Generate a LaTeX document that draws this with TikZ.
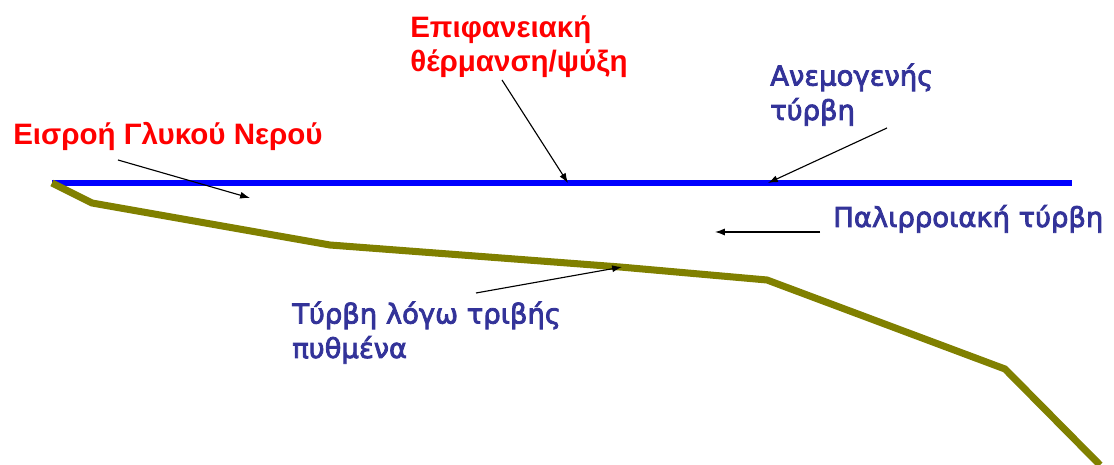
\documentclass[tikz,border=0pt]{standalone}
\usepackage{fontspec}
\usetikzlibrary{arrows.meta}
\newfontfamily\redfont{Liberation Sans}
\newfontfamily\bluefont[FakeBold=3]{DejaVu Sans}
\definecolor{surfline}{RGB}{0,0,255}
\definecolor{bedline}{RGB}{128,128,0}
\definecolor{labred}{RGB}{255,0,0}
\definecolor{labblue}{RGB}{51,51,153}
\tikzset{
  surf/.style  ={draw=surfline, line width=4.3pt},
  bed/.style   ={draw=bedline, line width=5pt, line join=miter},
  redlab/.style ={text=labred, font=\redfont\bfseries\fontsize{21}{24.2}\selectfont, inner sep=0pt, anchor=base west, align=left},
  bluelab/.style={text=labblue, font=\bluefont\fontsize{19.5}{24.5}\selectfont, inner sep=0pt, anchor=base west, align=left},
  ptr/.style   ={draw=black, line width=0.8pt, -{Latex[length=7pt,width=5pt]}},
}
\begin{document}
\begin{tikzpicture}[x=0.025cm,y=-0.025cm]
  \useasboundingbox (0,0) rectangle (1114,465);
  % water surface and sea bed
  \draw[surf] (52,183) -- (1072,183);
  \draw[bed] (52,183) -- (92,203) -- (330,245) -- (620,267) -- (767,280) -- (1005,369) -- (1100,465);
  % labels (base = last line)
  \node[redlab]  (inflow)  at (13,145)  {Εισροή Γλυκού Νερού};
  \node[redlab]  (heat)    at (410,72)  {Επιφανειακή\\θέρμανση/ψύξη};
  \node[bluelab] (wind)    at (770,120) {Ανεμογενής\\τύρβη};
  \node[bluelab] (tide)    at (833,227) {Παλιρροιακή τύρβη};
  \node[bluelab] (bottom)  at (292,358) {Τύρβη λόγω τριβής\\πυθμένα};
  % arrow ends
  \coordinate (inflowS) at (118,160);  \coordinate (inflowE) at (250,198);
  \coordinate (heatS)   at (502,80);   \coordinate (heatE)   at (568,183);
  \coordinate (windS)   at (887,128);  \coordinate (windE)   at (768,183);
  \coordinate (tideS)   at (820,232);  \coordinate (tideE)   at (715,232);
  \coordinate (bottomS) at (476,293);  \coordinate (bottomE) at (622,267);
  \draw[ptr] (inflowS) -- (inflowE);
  \draw[ptr] (heatS) -- (heatE);
  \draw[ptr] (windS) -- (windE);
  \draw[ptr] (tideS) -- (tideE);
  \draw[ptr] (bottomS) -- (bottomE);
\end{tikzpicture}
\end{document}
